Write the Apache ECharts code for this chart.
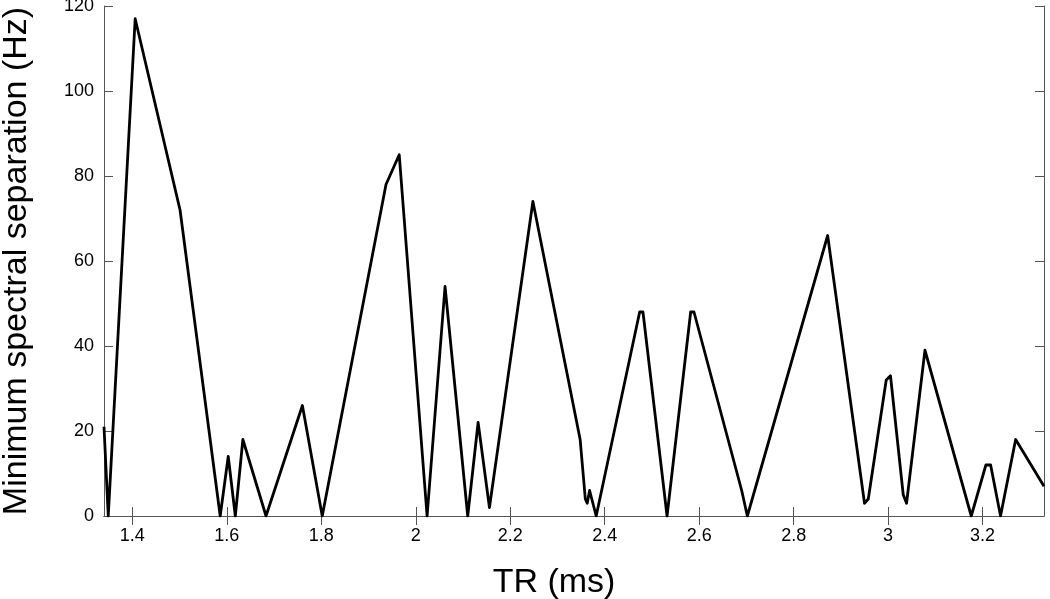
<!DOCTYPE html>
<html>
<head>
<meta charset="utf-8">
<title>Minimum spectral separation vs TR</title>
<script src="https://cdn.jsdelivr.net/npm/echarts@6/dist/echarts.min.js"></script>
<style>
  html, body { margin: 0; padding: 0; background: #fff; }
  #main { width: 1050px; height: 599px; }
</style>
</head>
<body>
<div id="main"></div>
<script type="text/javascript">
// TR values (ms) and minimum spectral separation (Hz)
var trValues = [1.340, 1.349, 1.406, 1.501, 1.586, 1.603, 1.618, 1.634, 1.683, 1.760,
                1.802, 1.937, 1.965, 2.024, 2.062, 2.110, 2.132, 2.156, 2.248, 2.348,
                2.359, 2.363, 2.368, 2.382, 2.474, 2.481, 2.532, 2.582, 2.589, 2.690,
                2.702, 2.872, 2.950, 2.958, 2.996, 3.005, 3.032, 3.039, 3.078, 3.176,
                3.207, 3.217, 3.238, 3.270, 3.330];
var sepValues = [21, 0, 117, 72, 0, 14, 0, 18, 0, 26,
                 0, 78, 85, 0, 54, 0, 22, 2, 74, 18,
                 4, 3, 6, 0, 48, 48, 0, 48, 48, 6,
                 0, 66, 3, 4, 32, 33, 5, 3, 39, 0,
                 12, 12, 0, 18, 7];
var xTicks = [1.4, 1.6, 1.8, 2, 2.2, 2.4, 2.6, 2.8, 3, 3.2];
var yTicks = [0, 20, 40, 60, 80, 100, 120];

var points = [];
for (var i = 0; i < trValues.length; i++) {
    points.push([trValues[i], sepValues[i]]);
}

var frameColor = '#555';
var fontFam = '"Liberation Sans", Arial, Helvetica, sans-serif';

var myChart = echarts.init(document.getElementById('main'));
myChart.setOption({
    animation: false,
    backgroundColor: '#fff',
    grid: { left: 104, right: 6, top: 6, bottom: 83, containLabel: false, outerBoundsMode: 'none' },
    xAxis: [{
        type: 'value',
        position: 'bottom',
        min: 1.34,
        max: 3.33,
        name: 'TR (ms)',
        nameLocation: 'middle',
        nameGap: 50,
        nameTextStyle: { color: '#000', fontSize: 34, fontFamily: fontFam, padding: [0, 40, 0, 0] },
        axisLine: { show: true, lineStyle: { color: frameColor, width: 1 } },
        axisTick: { show: true, inside: true, length: 9, customValues: xTicks,
                    lineStyle: { color: frameColor, width: 1 } },
        axisLabel: { customValues: xTicks, margin: 11, color: '#000', fontSize: 18, fontFamily: fontFam },
        splitLine: { show: false }
    }, {
        type: 'value',
        position: 'top',
        min: 1.34,
        max: 3.33,
        axisLine: { show: true, lineStyle: { color: frameColor, width: 1 } },
        axisTick: { show: true, inside: true, length: 9, customValues: xTicks,
                    lineStyle: { color: frameColor, width: 1 } },
        axisLabel: { show: false },
        splitLine: { show: false }
    }],
    yAxis: [{
        type: 'value',
        position: 'left',
        min: 0,
        max: 120,
        name: 'Minimum spectral separation (Hz)',
        nameLocation: 'middle',
        nameGap: 70,
        nameTextStyle: { color: '#000', fontSize: 34, fontFamily: fontFam },
        axisLine: { show: true, lineStyle: { color: frameColor, width: 1 } },
        axisTick: { show: true, inside: true, length: 9, customValues: yTicks,
                    lineStyle: { color: frameColor, width: 1 } },
        axisLabel: { customValues: yTicks, margin: 10, color: '#000', fontSize: 18, fontFamily: fontFam },
        splitLine: { show: false }
    }, {
        type: 'value',
        position: 'right',
        min: 0,
        max: 120,
        axisLine: { show: true, lineStyle: { color: frameColor, width: 1 } },
        axisTick: { show: true, inside: true, length: 9, customValues: yTicks,
                    lineStyle: { color: frameColor, width: 1 } },
        axisLabel: { show: false },
        splitLine: { show: false }
    }],
    series: [{
        name: 'separation',
        type: 'line',
        xAxisIndex: 0,
        yAxisIndex: 0,
        data: points,
        showSymbol: false,
        symbol: 'none',
        clip: true,
        lineStyle: { color: '#000', width: 2.8, join: 'round' }
    }]
});
</script>
</body>
</html>
